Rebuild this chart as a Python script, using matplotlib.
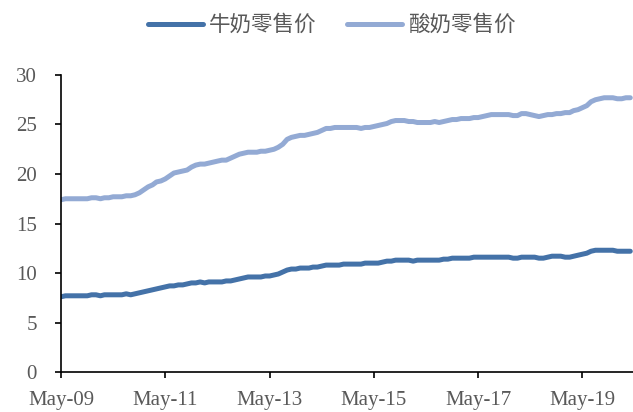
import matplotlib.pyplot as plt
import matplotlib.dates as mdates
import numpy as np
import pandas as pd

plt.rcParams['font.family'] = ['Liberation Serif', 'Noto Sans CJK SC', 'DejaVu Sans']

# monthly readings, May 2009 .. Apr 2020
milk = [7.6, 7.7, 7.7, 7.7, 7.7, 7.7, 7.7, 7.8, 7.8, 7.7, 7.8, 7.8,
        7.8, 7.8, 7.8, 7.9, 7.8, 7.9, 8.0, 8.1, 8.2, 8.3, 8.4, 8.5,
        8.6, 8.7, 8.7, 8.8, 8.8, 8.9, 9.0, 9.0, 9.1, 9.0, 9.1, 9.1,
        9.1, 9.1, 9.2, 9.2, 9.3, 9.4, 9.5, 9.6, 9.6, 9.6, 9.6, 9.7,
        9.7, 9.8, 9.9, 10.1, 10.3, 10.4, 10.4, 10.5, 10.5, 10.5, 10.6, 10.6,
        10.7, 10.8, 10.8, 10.8, 10.8, 10.9, 10.9, 10.9, 10.9, 10.9, 11.0, 11.0,
        11.0, 11.0, 11.1, 11.2, 11.2, 11.3, 11.3, 11.3, 11.3, 11.2, 11.3, 11.3,
        11.3, 11.3, 11.3, 11.3, 11.4, 11.4, 11.5, 11.5, 11.5, 11.5, 11.5, 11.6,
        11.6, 11.6, 11.6, 11.6, 11.6, 11.6, 11.6, 11.6, 11.5, 11.5, 11.6, 11.6,
        11.6, 11.6, 11.5, 11.5, 11.6, 11.7, 11.7, 11.7, 11.6, 11.6, 11.7, 11.8,
        11.9, 12.0, 12.2, 12.3, 12.3, 12.3, 12.3, 12.3, 12.2, 12.2, 12.2, 12.2]

yogurt = [17.4, 17.5, 17.5, 17.5, 17.5, 17.5, 17.5, 17.6, 17.6, 17.5, 17.6, 17.6,
          17.7, 17.7, 17.7, 17.8, 17.8, 17.9, 18.1, 18.4, 18.7, 18.9, 19.2, 19.3,
          19.5, 19.8, 20.1, 20.2, 20.3, 20.4, 20.7, 20.9, 21.0, 21.0, 21.1, 21.2,
          21.3, 21.4, 21.4, 21.6, 21.8, 22.0, 22.1, 22.2, 22.2, 22.2, 22.3, 22.3,
          22.4, 22.5, 22.7, 23.0, 23.5, 23.7, 23.8, 23.9, 23.9, 24.0, 24.1, 24.2,
          24.4, 24.6, 24.6, 24.7, 24.7, 24.7, 24.7, 24.7, 24.7, 24.6, 24.7, 24.7,
          24.8, 24.9, 25.0, 25.1, 25.3, 25.4, 25.4, 25.4, 25.3, 25.3, 25.2, 25.2,
          25.2, 25.2, 25.3, 25.2, 25.3, 25.4, 25.5, 25.5, 25.6, 25.6, 25.6, 25.7,
          25.7, 25.8, 25.9, 26.0, 26.0, 26.0, 26.0, 26.0, 25.9, 25.9, 26.1, 26.1,
          26.0, 25.9, 25.8, 25.9, 26.0, 26.0, 26.1, 26.1, 26.2, 26.2, 26.4, 26.5,
          26.7, 26.9, 27.3, 27.5, 27.6, 27.7, 27.7, 27.7, 27.6, 27.6, 27.7, 27.7]

labels = ['牛奶零售价', '酸奶零售价']
colors = ['#4472a8', '#93aad4']
tick_dates = ['2009-05-01', '2011-05-01', '2013-05-01', '2015-05-01',
              '2017-05-01', '2019-05-01']

dates = pd.date_range('2009-05-01', periods=len(milk), freq='MS')

fig = plt.figure(figsize=(6.33, 4.12), dpi=100)
ax = fig.add_axes([0.0964, 0.097, 0.9036, 0.721])

ax.plot(dates, milk, color=colors[0], lw=3.6, label=labels[0], solid_capstyle='round')
ax.plot(dates, yogurt, color=colors[1], lw=3.6, label=labels[1], solid_capstyle='round')

ax.set_xlim(pd.Timestamp('2009-05-01'), pd.Timestamp('2020-04-20'))
ax.set_ylim(0, 30)
ax.set_yticks(np.arange(0, 31, 5))
ax.set_xticks(pd.to_datetime(tick_dates))
ax.xaxis.set_major_formatter(mdates.DateFormatter('%b-%y'))

for s in ['top', 'right']:
    ax.spines[s].set_visible(False)
for s in ['left', 'bottom']:
    ax.spines[s].set_linewidth(1.2)
    ax.spines[s].set_color('black')
ax.tick_params(axis='both', direction='out', length=4.5, width=1.2, colors='black',
               labelcolor='#595959', labelsize=15)
ax.tick_params(axis='x', pad=9)
ax.tick_params(axis='y', pad=13)

leg = fig.legend(loc='center', bbox_to_anchor=(0.524, 0.939), ncol=2, frameon=False,
                 handlelength=2.55, columnspacing=1.45, handletextpad=0.25,
                 prop={'family': ['Noto Sans CJK SC'], 'size': 15.5})
for t in leg.get_texts():
    t.set_color('#595959')

plt.savefig('out.png', dpi=100)
